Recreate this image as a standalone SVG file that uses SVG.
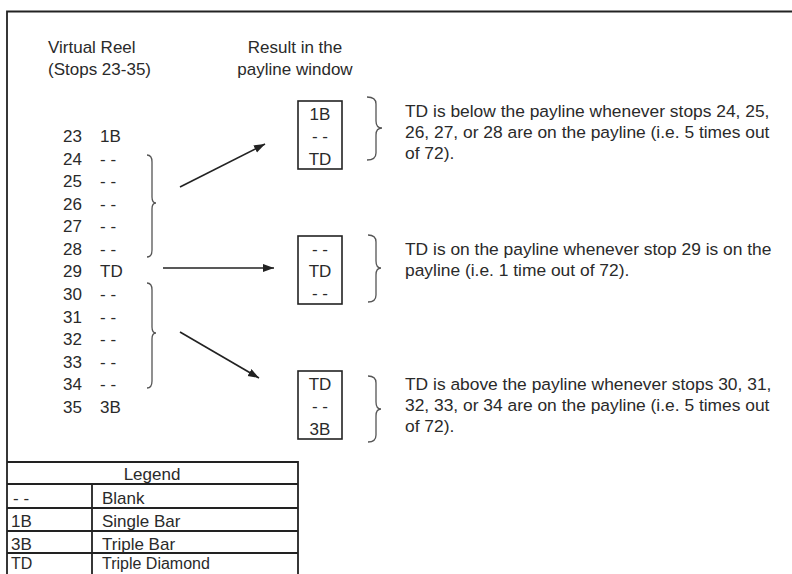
<svg xmlns="http://www.w3.org/2000/svg" width="792" height="574" viewBox="0 0 792 574">
<defs>
<marker id="ah" markerUnits="userSpaceOnUse" markerWidth="12" markerHeight="9" refX="11" refY="4" orient="auto">
<path d="M0,0 L11,4 L0,8 z" fill="#222"/>
</marker>
<style>
text{font-family:"Liberation Sans",Arial,sans-serif;font-size:17px;fill:#2a2a2a}
.r{font-size:17.4px}
.c{text-anchor:middle}
.box{fill:none;stroke:#222;stroke-width:1.6}
.br{fill:none;stroke:#555;stroke-width:1.3}
.ln{stroke:#222;stroke-width:1.6;fill:none}
.tb{stroke:#222;stroke-width:1.8;fill:none}
</style>
</defs>
<rect width="792" height="574" fill="#fff"/>
<path class="tb" d="M7,574 L7,11.5 L792,11.5" stroke-width="2"/>

<g id="headers">
<text x="48" y="53">Virtual Reel</text>
<text x="48" y="75">(Stops 23-35)</text>
<text class="c" x="295" y="53">Result in the</text>
<text class="c" x="295" y="75">payline window</text>
</g>

<g id="reel">
<text x="63" y="142">23</text><text x="100" y="142">1B</text>
<text x="63" y="165">24</text><text x="100" y="165">- -</text>
<text x="63" y="187">25</text><text x="100" y="187">- -</text>
<text x="63" y="210">26</text><text x="100" y="210">- -</text>
<text x="63" y="232">27</text><text x="100" y="232">- -</text>
<text x="63" y="255">28</text><text x="100" y="255">- -</text>
<text x="63" y="277">29</text><text x="100" y="277">TD</text>
<text x="63" y="300">30</text><text x="100" y="300">- -</text>
<text x="63" y="323">31</text><text x="100" y="323">- -</text>
<text x="63" y="345">32</text><text x="100" y="345">- -</text>
<text x="63" y="368">33</text><text x="100" y="368">- -</text>
<text x="63" y="390">34</text><text x="100" y="390">- -</text>
<text x="63" y="413">35</text><text x="100" y="413">3B</text>
</g>

<g id="reel-braces">
<path class="br" d="M147,155 Q152,155 152,162 L152,197 Q152,203 156,203 Q152,203 152,209 L152,250 Q152,257 147,257"/>
<path class="br" d="M147,283 Q152,283 152,290 L152,327 Q152,333 156,333 Q152,333 152,339 L152,381 Q152,388 147,388"/>
</g>

<g id="connectors">
<line class="ln" x1="180" y1="187" x2="265" y2="144" marker-end="url(#ah)"/>
<line class="ln" x1="163" y1="268" x2="274" y2="268" marker-end="url(#ah)"/>
<line class="ln" x1="180" y1="332" x2="259" y2="378" marker-end="url(#ah)"/>
</g>

<g id="window1">
<rect class="box" x="298" y="101" width="44" height="68"/>
<text class="c" x="320" y="120">1B</text>
<text class="c" x="320" y="142">- -</text>
<text class="c" x="320" y="165">TD</text>
</g>
<g id="window2">
<rect class="box" x="298" y="236" width="44" height="68"/>
<text class="c" x="320" y="255">- -</text>
<text class="c" x="320" y="277">TD</text>
<text class="c" x="320" y="299">- -</text>
</g>
<g id="window3">
<rect class="box" x="298" y="371" width="44" height="68"/>
<text class="c" x="320" y="390">TD</text>
<text class="c" x="320" y="412">- -</text>
<text class="c" x="320" y="435">3B</text>
</g>

<g id="result-braces">
<path class="br" d="M367,97 Q376,97 376,104 L376,121 Q376,128 382,128 Q376,128 376,135 L376,153 Q376,160 367,160"/>
<path class="br" d="M368,235 Q376,235 376,242 L376,261 Q376,268 381,268 Q376,268 376,275 L376,295 Q376,302 368,302"/>
<path class="br" d="M368,376 Q376,376 376,383 L376,402 Q376,409 381,409 Q376,409 376,416 L376,435 Q376,442 368,442"/>
</g>

<g id="desc1">
<text class="r" x="405" y="117">TD is below the payline whenever stops 24, 25,</text>
<text class="r" x="405" y="138">26, 27, or 28 are on the payline (i.e. 5 times out</text>
<text class="r" x="405" y="159">of 72).</text>
</g>
<g id="desc2">
<text class="r" x="405" y="255">TD is on the payline whenever stop 29 is on the</text>
<text class="r" x="405" y="276">payline (i.e. 1 time out of 72).</text>
</g>
<g id="desc3">
<text class="r" x="405" y="390">TD is above the payline whenever stops 30, 31,</text>
<text class="r" x="405" y="411">32, 33, or 34 are on the payline (i.e. 5 times out</text>
<text class="r" x="405" y="432">of 72).</text>
</g>

<g id="legend">
<path class="tb" d="M7,462 L298,462 L298,574 M7,484 L298,484 M7,508 L298,508 M7,531 L298,531 M7,553 L298,553 M92,484 L92,574"/>
<text class="c" x="152" y="480">Legend</text>
<text x="13" y="504">- -</text><text x="102" y="504">Blank</text>
<text x="11" y="527">1B</text><text x="102" y="527">Single Bar</text>
<text x="11" y="550">3B</text><text x="102" y="550">Triple Bar</text>
<text x="11" y="569" style="font-size:16px">TD</text><text x="102" y="569" style="font-size:16px">Triple Diamond</text>
</g>
</svg>
